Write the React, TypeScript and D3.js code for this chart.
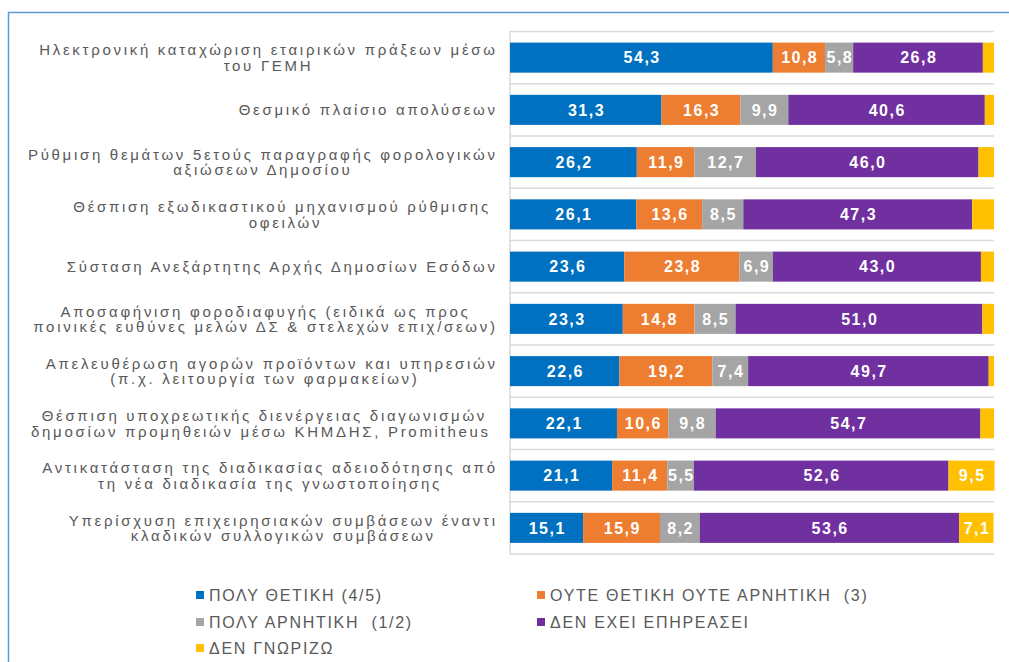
import React, { useEffect, useRef } from "react";
import * as d3 from "d3";

const categories: string[][] = [
  ["Ηλεκτρονική καταχώριση εταιρικών πράξεων μέσω", "του ΓΕΜΗ"],
  ["Θεσμικό πλαίσιο απολύσεων"],
  ["Ρύθμιση θεμάτων 5ετούς παραγραφής φορολογικών", "αξιώσεων Δημοσίου"],
  ["Θέσπιση εξωδικαστικού μηχανισμού ρύθμισης ", "οφειλών"],
  ["Σύσταση Ανεξάρτητης Αρχής Δημοσίων Εσόδων"],
  ["Αποσαφήνιση φοροδιαφυγής (ειδικά ως προς", "ποινικές ευθύνες μελών ΔΣ & στελεχών επιχ/σεων)"],
  ["Απελευθέρωση αγορών προϊόντων και υπηρεσιών", "(π.χ. λειτουργία των φαρμακείων)  "],
  ["Θέσπιση υποχρεωτικής διενέργειας διαγωνισμών", "δημοσίων προμηθειών μέσω ΚΗΜΔΗΣ, Promitheus "],
  ["Αντικατάσταση της διαδικασίας αδειοδότησης από", "τη νέα διαδικασία της γνωστοποίησης"],
  ["Υπερίσχυση επιχειρησιακών συμβάσεων έναντι", "κλαδικών συλλογικών συμβάσεων"],
];

const seriesNames: string[] = [
  "ΠΟΛΥ ΘΕΤΙΚΗ (4/5)",
  "ΟΥΤΕ ΘΕΤΙΚΗ ΟΥΤΕ ΑΡΝΗΤΙΚΗ  (3)",
  "ΠΟΛΥ ΑΡΝΗΤΙΚΗ  (1/2)",
  "ΔΕΝ ΕΧΕΙ ΕΠΗΡΕΑΣΕΙ",
  "ΔΕΝ ΓΝΩΡΙΖΩ",
];

const veryPositive: number[] = [54.3, 31.3, 26.2, 26.1, 23.6, 23.3, 22.6, 22.1, 21.1, 15.1];
const neutral: number[] = [10.8, 16.3, 11.9, 13.6, 23.8, 14.8, 19.2, 10.6, 11.4, 15.9];
const veryNegative: number[] = [5.8, 9.9, 12.7, 8.5, 6.9, 8.5, 7.4, 9.8, 5.5, 8.2];
const notAffected: number[] = [26.8, 40.6, 46.0, 47.3, 43.0, 51.0, 49.7, 54.7, 52.6, 53.6];
const dontKnow: number[] = [2.3, 1.9, 3.2, 4.5, 2.7, 2.4, 1.1, 2.8, 9.5, 7.1];

const seriesValues: number[][] = [veryPositive, neutral, veryNegative, notAffected, dontKnow];
const colors: string[] = ["#0070C0", "#ED7D31", "#A5A5A5", "#7030A0", "#FFC000"];

const FONT = "'Liberation Sans', Arial, sans-serif";

export default function App() {
  const ref = useRef<SVGSVGElement | null>(null);

  useEffect(() => {
    const svg = d3.select(ref.current);
    svg.selectAll("*").remove();

    const W = 1009;
    const H = 662;
    const left = 510;
    const right = 994;
    const top = 31.5;
    const bottom = 554;

    // outer frame
    svg
      .append("rect")
      .attr("x", 8.5)
      .attr("y", 12.5)
      .attr("width", W + 20)
      .attr("height", H + 20)
      .attr("fill", "none")
      .attr("stroke", "#5B9BD5")
      .attr("stroke-width", 1.5);

    const y = d3
      .scaleBand<number>()
      .domain(d3.range(categories.length))
      .range([top, bottom])
      .paddingInner(0.425)
      .paddingOuter(0.2125);

    const x = d3.scaleLinear().domain([0, 100]).range([left, right]);

    const step = y.step();

    // grid lines at band boundaries
    const boundaries = d3.range(categories.length + 1).map((i) => top + i * step);
    svg
      .append("g")
      .selectAll("line")
      .data(boundaries)
      .join("line")
      .attr("x1", left)
      .attr("x2", right)
      .attr("y1", (d) => d)
      .attr("y2", (d) => d)
      .attr("stroke", "#D9D9D9")
      .attr("stroke-width", 1.5);

    svg
      .append("line")
      .attr("x1", left)
      .attr("x2", left)
      .attr("y1", top)
      .attr("y2", bottom)
      .attr("stroke", "#D9D9D9")
      .attr("stroke-width", 1.5);

    // stacked data
    const rows = categories.map((_, i) => {
      const r: any = { i };
      seriesValues.forEach((s, k) => (r["s" + k] = s[i]));
      return r;
    });
    const stack = d3.stack<any>().keys(seriesValues.map((_, k) => "s" + k));
    const stacked = stack(rows);

    const gBars = svg.append("g");
    stacked.forEach((layer, k) => {
      const g = gBars.append("g");
      g.selectAll("rect")
        .data(layer)
        .join("rect")
        .attr("x", (d) => x(d[0]))
        .attr("y", (d) => y(d.data.i)!)
        .attr("width", (d) => x(d[1]) - x(d[0]))
        .attr("height", y.bandwidth())
        .attr("fill", colors[k]);
    });
    stacked.forEach((layer, k) => {
      const g = gBars.append("g");
      g.selectAll("text")
        .data(layer.filter((d) => d[1] - d[0] >= 5))
        .join("text")
        .attr("x", (d) => (x(d[0]) + x(d[1])) / 2 + 0.75)
        .attr("y", (d) => y(d.data.i)! + y.bandwidth() / 2)
        .attr("dy", "0.36em")
        .attr("text-anchor", "middle")
        .attr("fill", "#FFFFFF")
        .attr("font-family", FONT)
        .attr("font-weight", "bold")
        .attr("font-size", 16)
        .attr("letter-spacing", 1.5)
        .text((d) => (d[1] - d[0]).toFixed(1).replace(".", ","));
    });

    // category labels
    const gLab = svg.append("g");
    const labelRight = 495;
    const lineH = 15.5;
    const ls = 2.7;
    categories.forEach((lines, i) => {
      const cy = y(i)! + y.bandwidth() / 2;
      const texts = lines.map((ln, j) =>
        gLab
          .append("text")
          .attr("xml:space", "preserve")
          .style("white-space", "pre")
          .attr("y", cy + (j - (lines.length - 1) / 2) * lineH)
          .attr("dy", "0.36em")
          .attr("text-anchor", "middle")
          .attr("fill", "#595959")
          .attr("font-family", FONT)
          .attr("font-size", 15)
          .attr("letter-spacing", ls)
          .text(ln)
      );
      const widths = texts.map((t) => (t.node() as SVGTextElement).getComputedTextLength());
      const maxW = d3.max(widths) || 0;
      const cx = labelRight - (maxW - ls) / 2;
      texts.forEach((t) => t.attr("x", cx + ls / 2));
    });

    // legend
    const legendPos = [
      [196, 595],
      [537, 595],
      [196, 622],
      [537, 622],
      [196, 648],
    ];
    const gLeg = svg.append("g");
    seriesNames.forEach((name, k) => {
      const [lx, ly] = legendPos[k];
      gLeg
        .append("rect")
        .attr("x", lx)
        .attr("y", ly - 4)
        .attr("width", 8)
        .attr("height", 8)
        .attr("fill", colors[k]);
      gLeg
        .append("text")
        .attr("xml:space", "preserve")
        .style("white-space", "pre")
        .attr("x", lx + 13)
        .attr("y", ly)
        .attr("dy", "0.36em")
        .attr("fill", "#595959")
        .attr("font-family", FONT)
        .attr("font-size", 16)
        .attr("letter-spacing", 1.7)
        .text(name);
    });
  }, []);

  return (
    <svg
      ref={ref}
      width={1009}
      height={662}
      style={{ position: "absolute", left: 0, top: 0, display: "block", background: "#FFFFFF" }}
    />
  );
}
